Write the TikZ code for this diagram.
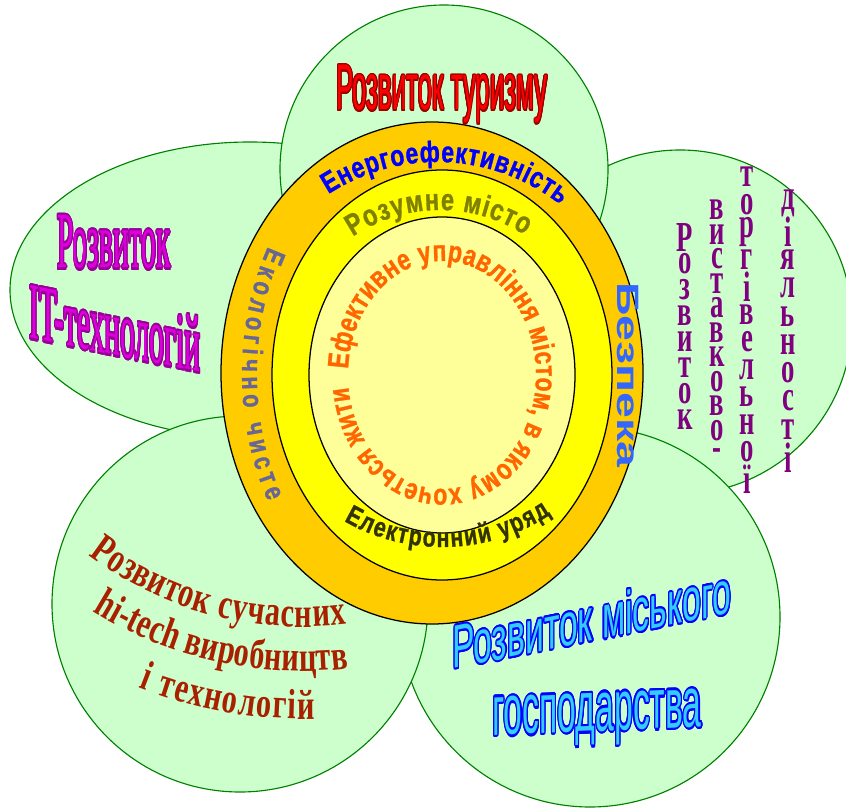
\documentclass[tikz,border=0pt]{standalone}
\usepackage{fontspec}
\setmainfont{Liberation Sans}
\newfontfamily\ringsans{Liberation Sans}[FakeStretch=0.78, FakeBold=1]
\newfontfamily\timesf{Liberation Serif}
\newfontfamily\timesnarrow{Liberation Serif}[FakeStretch=0.72]
\usepackage[copies]{contour}
\usepackage{tikz}
\usetikzlibrary{decorations.text}

\definecolor{petalgreen}{HTML}{CCFFCC}
\definecolor{petalline}{HTML}{008000}
\definecolor{ringorange}{HTML}{FFCC00}
\definecolor{ringyellow}{HTML}{FFFF00}
\definecolor{ringpale}{HTML}{FFFF99}
\definecolor{energyblue}{HTML}{0000FF}
\definecolor{smartolive}{HTML}{808000}
\definecolor{govdark}{HTML}{333300}
\definecolor{ecogrey}{HTML}{666699}
\definecolor{safeblue}{HTML}{3366FF}
\definecolor{cityorange}{HTML}{FF6600}
\definecolor{tourred}{HTML}{FF0000}
\definecolor{tourdark}{HTML}{990000}
\definecolor{itpink}{HTML}{DD00DD}
\definecolor{itpurple}{HTML}{990099}
\definecolor{tradepurple}{HTML}{800080}
\definecolor{hitechred}{HTML}{A82000}
\definecolor{cityfill}{HTML}{33CCFF}
\definecolor{cityblue}{HTML}{0000FF}

\begin{document}
\begin{tikzpicture}[x=0.025cm, y=0.025cm,
  petal/.style={fill=petalgreen, draw=petalline, line width=0.8pt},
  ring/.style={draw=black, line width=0.9pt},
  ringtext/.style={decorate, decoration={text along path, text align=fit to path}},
  stackletter/.style={inner sep=0pt, yscale=1.6, text=tradepurple, font=\timesf\bfseries\fontsize{19}{19}\selectfont}]
\useasboundingbox (0,0) rectangle (846,810);

% petals
\draw[petal] (250,520) ellipse[x radius=240, y radius=148];
\draw[petal] (680,488) circle[radius=172];
\draw[petal] (444,641) circle[radius=164];
\draw[petal] (590,193) circle[radius=190];
\draw[petal] (240,206) circle[radius=188];

% rings
\draw[ring, fill=ringorange] (432,437) ellipse[x radius=211, y radius=251];
\draw[ring, fill=ringyellow] (442,435) ellipse[x radius=170, y radius=205];
\draw[ring, fill=ringpale] (442,435) ellipse[x radius=133, y radius=158];

% texts on the rings
\path[ringtext, decoration={text={|\ringsans\fontsize{21}{24}\selectfont\bfseries\color{energyblue}|Енергоефективність}}]
  (437,436) ++(122:205 and 212) arc[start angle=122, end angle=53, x radius=205, y radius=212];
\node[rotate=-90, xscale=1.5, text=safeblue, font=\bfseries\fontsize{22}{22}\selectfont] (safety) at (628,435) {Безпека};
\path[ringtext, decoration={text={|\ringsans\fontsize{20}{23}\selectfont\bfseries\color{ecogrey}|Екологічно чисте}}]
  (437,436) ++(150:195 and 255) arc[start angle=150, end angle=210, x radius=195, y radius=255];
\path[ringtext, decoration={text={|\ringsans\fontsize{21.5}{25}\selectfont\bfseries\color{smartolive}|Розумне місто}}]
  (440,435) ++(123:160 and 165) arc[start angle=123, end angle=58, x radius=160, y radius=165];
\path[ringtext, decoration={text={|\ringsans\fontsize{19.5}{22}\selectfont\bfseries\color{govdark}|Електронний уряд}}]
  (442,435) ++(238:185 and 172) arc[start angle=238, end angle=306, x radius=185, y radius=172];
\path[ringtext, decoration={text={|\ringsans\fontsize{21}{24}\selectfont\bfseries\color{cityorange}|Ефективне управління містом, в якому хочеться жити}}]
  (442,435) ++(177:94 and 114) arc[start angle=177, end angle=-174, x radius=94, y radius=114];

% top petal
\node[anchor=base, xscale=0.46, yscale=1.15, text=tourred, font=\fontsize{40}{40}\selectfont] (tourism) at (442,700)
  {\contourlength{1.2pt}\contour{tourdark}{Розвиток туризму}};

% left petal
\node[anchor=base, yscale=2.7, text=itpink, font=\timesf\fontsize{21}{21}\selectfont] (itfirst) at (114,542)
  {\contourlength{0.6pt}\contour{itpurple}{Розвиток}};
\node[anchor=base, yslant=-0.2, yscale=2.7, text=itpink, font=\timesf\fontsize{21}{21}\selectfont] (itsecond) at (115,455)
  {\contourlength{0.6pt}\contour{itpurple}{IT-технологій}};

% right petal
\foreach \ch [count=\i] in {Р,о,з,в,и,т,о,к}
  \node[stackletter] (trade-a\i) at (685,{572-26*(\i-1)}) {\ch};
\foreach \ch [count=\i] in {в,и,с,т,а,в,к,о,в,о,-}
  \node[stackletter] (trade-b\i) at (717,{600-24.5*(\i-1)}) {\ch};
\foreach \ch [count=\i] in {т,о,р,г,і,в,е,л,ь,н,о,ї}
  \node[stackletter] (trade-c\i) at (747,{633-27.5*(\i-1)}) {\ch};
\foreach \ch [count=\i] in {д,і,я,л,ь,н,о,с,т,і}
  \node[stackletter] (trade-d\i) at (788,{607-28.3*(\i-1)}) {\ch};

% bottom left petal
\path[ringtext, decoration={text={|\timesnarrow\bfseries\fontsize{30}{34}\selectfont\color{hitechred}|Розвиток сучасних}}]
  (303,539) ++(233:356) arc[start angle=233, end angle=277, radius=356];
\path[ringtext, decoration={text={|\timesnarrow\bfseries\fontsize{30}{34}\selectfont\color{hitechred}|hi-tech виробництв}}]
  (303,539) ++(238.3:400) arc[start angle=238.3, end angle=276.5, radius=400];
\path[ringtext, decoration={text={|\timesnarrow\bfseries\fontsize{30}{34}\selectfont\color{hitechred}|і технологій}}]
  (303,539) ++(248.5:448) arc[start angle=248.5, end angle=271.5, radius=448];

% bottom right petal
\node[anchor=base, yslant=0.2, yscale=1.8, text=cityfill, font=\fontsize{24}{24}\selectfont] (cityfirst) at (592,169)
  {\contourlength{0.8pt}\contour{cityblue}{Розвиток міського}};
\node[anchor=base, yslant=0.04, yscale=2.1, text=cityfill, font=\fontsize{24}{24}\selectfont] (citysecond) at (597,79)
  {\contourlength{0.8pt}\contour{cityblue}{господарства}};
\end{tikzpicture}
\end{document}
